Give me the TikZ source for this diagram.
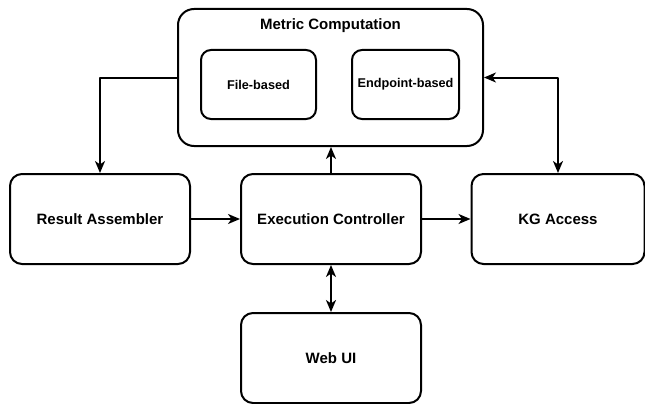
\documentclass[tikz,border=0pt]{standalone}
\usepackage{fontspec}
\setmainfont{Liberation Sans}
\usetikzlibrary{arrows.meta}

\begin{document}
\begin{tikzpicture}[
    x=1pt,
    y=-1pt,
    line cap=round,
    line join=round,
    every node/.style={font=\bfseries\fontsize{15}{18}\selectfont},
]
\definecolor{dgLine}{HTML}{000000}
\definecolor{dgFill}{HTML}{FFFFFF}

\tikzset{
    block/.style={draw=dgLine,fill=dgFill,line width=2pt,rounded corners=12pt,
        minimum width=180pt,minimum height=90pt,inner sep=0pt},
    group/.style={draw=dgLine,fill=dgFill,line width=2pt,rounded corners=16pt,
        minimum width=305pt,minimum height=137pt,inner sep=0pt},
    subblock/.style={draw=dgLine,fill=dgFill,line width=2pt,rounded corners=10pt,
        minimum height=69pt,inner sep=0pt,font=\bfseries\fontsize{12.7}{15}\selectfont},
    link/.style={draw=dgLine,line width=2pt,-{Stealth[length=12pt,width=10pt,inset=3.5pt]}},
    twolink/.style={draw=dgLine,line width=2pt,{Stealth[length=12pt,width=10pt,inset=3.5pt]}-{Stealth[length=12pt,width=10pt,inset=3.5pt]}},
}

\useasboundingbox (0,0) rectangle (645,404);

\node[group] (metric) at (330.5,77.5) {};
\node (metrictitle) at (330.5,26) {Metric Computation};
\node[subblock,minimum width=115pt] (filebased) at (258.5,84.5) {File-based};
\node[subblock,minimum width=107pt] (endpoint) at (405.5,84.5) {Endpoint-based};

\node[block] (result) at (100,219) {Result Assembler};
\node[block] (exec) at (331,219) {Execution Controller};
\node[block,minimum width=173pt] (kg) at (558,219) {KG Access};
\node[block] (webui) at (331,358) {Web UI};

\draw[link] (metric.west) -| (result.north);
\draw[link] (exec.north) -- (exec.north |- metric.south);
\draw[twolink] (metric.east) -| (kg.north);
\draw[link] (result.east) -- (exec.west);
\draw[link] (exec.east) -- (kg.west);
\draw[twolink] (exec.south) -- (webui.north);
\end{tikzpicture}
\end{document}
